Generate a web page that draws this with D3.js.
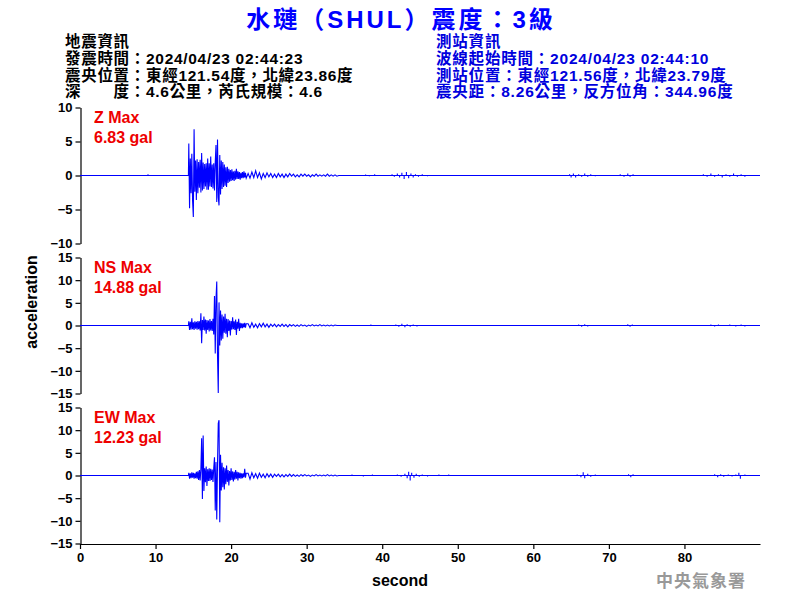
<!DOCTYPE html>
<html><head><meta charset="utf-8">
<script src="https://cdn.jsdelivr.net/npm/d3@7"></script>
<style>
html,body{margin:0;padding:0;background:#fff;}
svg{display:block;}
text{font-family:"Liberation Sans","Noto Sans CJK TC",Arial,sans-serif;font-weight:bold;}
</style></head>
<body>
<svg id="c" width="800" height="600"></svg>
<script>
// ---------------- data ----------------
const title = "水璉（SHUL）震度：3級";
const leftInfo = ["地震資訊","發震時間：2024/04/23 02:44:23","震央位置：東經121.54度，北緯23.86度","深\u3000\u3000度：4.6公里，芮氏規模：4.6"];
const rightInfo = ["測站資訊","波線起始時間：2024/04/23 02:44:10","測站位置：東經121.56度，北緯23.79度","震央距：8.26公里，反方位角：344.96度"];
const channels = ["Z","NS","EW"];
const maxLabels = ["6.83 gal","14.88 gal","12.23 gal"];
const yDomains = [[-10,10],[-15,15],[-15,15]];
const yTicks = [[-10,-5,0,5,10],[-15,-10,-5,0,5,10,15],[-15,-10,-5,0,5,10,15]];
const xTicks = [0,10,20,30,40,50,60,70,80];
const xDomain = [0,90];

// strong motion: samples every 0.1 s starting at 14.4 s
const strongStart = 14.4, strongDt = 0.1;
const zStrong = [4.7,-4.8,2.5,-2.6,3.2,-3.7,-6.1,6.8,-2.4,2.2,-3.6,2.4,-2.6,2.0,-1.8,2.3,-2.5,3.3,-2.2,1.9,-2.0,1.7,-1.6,1.8,-2.1,2.5,-2.1,1.8,-1.6,2.8,-1.7,1.6,-1.9,1.8,-2.2,1.9,4.5,-3.9,5.3,-3.2,-4.4,3.0,-2.8,2.2,-2.0,2.0,-1.7,1.6,-1.5,1.2,-1.7,1.3,-1.1,1.0,-0.9,0.8,-0.8,0.9,-0.7,0.6,-0.8,0.7,-0.6,1.0,-0.5,0.6,-0.5,0.5,-0.6,0.4,-0.4,0.5,-0.4,0.6,-0.3,0.4,-0.4];
const nsStrong = [0.9,-1.0,0.8,-0.9,1.6,-0.8,0.7,-1.0,0.9,-0.7,0.8,-0.9,1.0,-0.8,0.9,-1.1,2.7,-3.9,1.2,-1.0,2.0,-1.1,1.3,-1.8,1.2,-1.0,1.1,-1.3,1.4,-1.1,1.0,-1.2,1.5,-2.0,6.5,-6.2,5.8,9.7,-6.6,-14.9,5.1,-4.4,3.3,-3.3,2.4,-2.9,2.0,-1.6,2.6,-1.8,1.5,-2.6,1.4,-1.2,1.1,-2.2,1.0,-0.9,1.8,-0.8,0.9,-1.0,1.3,-2.1,0.8,-0.7,1.5,-1.2,0.6,-0.6,0.5,-0.6,0.5,-0.4,0.6,-0.5,0.4];
const ewStrong = [0.6,-0.7,0.5,-0.6,0.7,-0.5,0.6,-0.7,0.5,-0.6,0.8,-0.7,0.9,-1.0,1.2,-1.1,1.5,8.2,-5.2,8.8,-3.4,1.6,-1.5,2.0,-2.3,1.4,-1.2,1.6,-1.2,1.5,-1.0,1.3,-1.4,1.6,4.0,-7.7,3.0,-9.7,2.5,11.5,12.2,-10.3,4.6,-3.3,2.8,-2.6,1.8,-3.1,1.6,-1.9,2.2,-1.4,1.2,-2.2,1.0,-1.1,1.6,-1.0,0.9,-1.3,0.8,-0.9,1.2,-0.7,0.8,-1.1,0.7,-0.6,0.6,-0.7,0.5,-0.6,0.5,-0.4,1.5,-0.5,0.5];

// coda: samples every 0.25 s starting at 22.25 s
const codaStart = 22.25, codaDt = 0.25;
const zCoda = [0.3,-0.4,0.5,-0.3,0.7,-0.3,0.4,-0.5,0.3,-0.3,0.4,-0.2,0.3,-0.3,0.2,-0.3,0.3,-0.2,0.2,-0.3,0.2,-0.2,0.3,-0.1,0.2,-0.2,0.1,-0.2,0.2,-0.1,0.2,-0.1,0.1,-0.2,0.1,-0.1,0.2,-0.1,0.1,-0.1,0.1,-0.1,0.2,-0.1,0.1,-0.1,0.1,-0.1];
const nsCoda = [0.4,-0.5,0.6,-0.4,0.3,-0.5,0.4,-0.3,0.5,-0.3,0.3,-0.4,0.3,-0.2,0.3,-0.3,0.2,-0.2,0.3,-0.2,0.2,-0.3,0.2,-0.1,0.2,-0.2,0.1,-0.2,0.2,-0.1,0.1,-0.2,0.1,-0.1,0.2,-0.1,0.1,-0.1,0.2,-0.1,0.1,-0.1,0.1,-0.1,0.1,-0.1,0.1,0];
const ewCoda = [0.5,-0.8,0.6,-0.5,0.4,-0.6,0.5,-0.4,0.3,-0.5,0.4,-0.3,0.3,-0.4,0.3,-0.2,0.3,-0.3,0.2,-0.3,0.2,-0.2,0.3,-0.2,0.2,-0.2,0.1,-0.2,0.2,-0.1,0.2,-0.1,0.1,-0.2,0.1,-0.1,0.2,-0.1,0.1,-0.1,0.1,-0.1,0.2,-0.1,0.1,-0.1,0.1,-0.1];

// isolated small spikes [time, value]
const zSpikes = [[9.0,0.2],[37.8,0.15],[38.3,-0.1],[39.0,0.2],[41.3,0.2],[41.6,-0.2],[42.0,0.3],[42.3,-0.3],[42.6,0.4],[42.9,-0.5],[43.2,0.5],[43.5,-0.4],[43.8,0.3],[44.1,-0.3],[44.4,0.2],[44.8,-0.2],[45.3,0.2],[46.0,-0.1],[64.8,0.2],[65.0,-0.3],[65.3,0.3],[65.6,-0.3],[66.0,0.2],[66.4,-0.2],[66.8,0.3],[67.2,-0.2],[67.6,0.2],[68.2,-0.1],[71.5,0.2],[72.0,-0.2],[72.5,0.3],[72.8,-0.2],[73.2,0.2],[82.5,0.2],[83.0,-0.2],[83.5,0.3],[84.0,-0.2],[84.5,0.2],[85.0,-0.3],[85.5,0.2],[86.0,-0.2],[86.5,0.3],[87.0,-0.2],[87.5,0.2],[88.0,-0.2]];
const nsSpikes = [[38.5,0.2],[40.0,-0.1],[41.8,0.2],[42.2,-0.3],[42.6,0.4],[43.0,-0.4],[43.3,0.3],[43.7,-0.3],[44.1,0.2],[44.6,-0.2],[66.0,0.2],[66.4,-0.3],[66.8,0.3],[67.2,-0.2],[72.5,0.3],[72.8,-0.3],[73.1,0.2],[83.5,0.2],[84.0,-0.2],[84.5,0.2],[85.0,-0.1],[86.0,0.2],[86.8,-0.2],[87.5,0.2],[88.0,-0.2]];
const ewSpikes = [[36.0,0.2],[37.5,-0.2],[38.7,0.2],[42.0,0.2],[42.5,-0.3],[43.0,0.4],[43.3,-0.6],[43.5,0.8],[43.7,-1.1],[43.9,0.6],[44.2,-0.5],[44.5,0.4],[44.9,-0.3],[45.3,0.2],[46.0,-0.2],[47.5,0.2],[48.8,0.2],[65.8,0.2],[66.3,-0.4],[66.6,0.7],[66.8,-0.6],[67.2,0.4],[67.6,-0.3],[68.2,0.2],[72.6,0.3],[72.9,-0.4],[73.2,0.3],[84.0,0.3],[84.4,-0.4],[84.8,0.3],[85.2,-0.3],[85.8,0.2],[86.3,-0.2],[86.8,0.2],[87.2,0.6],[87.4,-0.7],[88.0,0.2]];

const strongs = [zStrong, nsStrong, ewStrong];
const codas = [zCoda, nsCoda, ewCoda];
const spikes = [zSpikes, nsSpikes, ewSpikes];

// ---------------- drawing ----------------
const svg = d3.select("#c");
svg.append("rect").attr("width",800).attr("height",600).attr("fill","#fff");

const blue = "#0000ff";
svg.append("text").attr("x",401).attr("y",28).attr("text-anchor","middle")
  .attr("font-size",24).attr("fill",blue).attr("letter-spacing",3).text(title);

const infoY = [47,64,80.5,97];
leftInfo.forEach((t,i)=>svg.append("text").attr("x",65).attr("y",infoY[i]).attr("font-size",15.5)
  .attr("letter-spacing",0.7).attr("fill","#000").text(t));
rightInfo.forEach((t,i)=>svg.append("text").attr("x",436).attr("y",infoY[i]).attr("font-size",15.5)
  .attr("letter-spacing",0.8).attr("fill","#0000dd").text(t));

const x = d3.scaleLinear().domain(xDomain).range([80,760]);
const panelTop = 107.5, panelH = 136, panelStep = 150;

function tracePoints(i){
  const pts = [[xDomain[0],0]];
  const sp = spikes[i].filter(d=>d[0]<strongStart);
  sp.forEach(d=>{pts.push([d[0],0],[d[0],d[1]],[d[0],0]);});
  pts.push([strongStart-0.05,0]);
  strongs[i].forEach((v,k)=>pts.push([strongStart+k*strongDt, v]));
  codas[i].forEach((v,k)=>pts.push([codaStart+k*codaDt, v]));
  pts.push([codaStart+codas[i].length*codaDt,0]);
  spikes[i].filter(d=>d[0]>strongStart).forEach(d=>{pts.push([d[0],0],[d[0],d[1]],[d[0],0]);});
  pts.push([xDomain[1],0]);
  return pts;
}

channels.forEach((ch,i)=>{
  const top = panelTop + i*panelStep;
  const y = d3.scaleLinear().domain(yDomains[i]).range([top+panelH, top]);
  const g = svg.append("g");
  const ax = g.append("g").attr("transform","translate(80.5,0)")
    .call(d3.axisLeft(y).tickValues(yTicks[i]).tickSize(5).tickSizeOuter(0).tickPadding(3));
  ax.selectAll("path,line").attr("stroke","#000").attr("stroke-width",1.2);
  ax.selectAll("text").attr("font-family",'"Liberation Sans",Arial,sans-serif').attr("font-weight","bold")
    .attr("font-size",13).attr("fill","#000");

  const line = d3.line().x(d=>x(d[0])).y(d=>y(d[1]));
  g.append("path").datum(tracePoints(i)).attr("d",line).attr("fill","none")
    .attr("stroke",blue).attr("stroke-width",1.1);

  g.append("text").attr("x",94).attr("y",top+15.5).attr("font-size",16).attr("fill","#ee0000").text(ch+" Max");
  g.append("text").attr("x",94).attr("y",top+35.5).attr("font-size",16).attr("fill","#ee0000").text(maxLabels[i]);

  if(i===channels.length-1){
    const xa = g.append("g").attr("transform",`translate(0,${top+panelH+0.5})`)
      .call(d3.axisBottom(x).tickValues(xTicks).tickSize(5).tickSizeOuter(0).tickPadding(4).tickFormat(d3.format("d")));
    xa.selectAll("path,line").attr("stroke","#000").attr("stroke-width",1.2);
    xa.selectAll("text").attr("font-family",'"Liberation Sans",Arial,sans-serif').attr("font-weight","bold")
      .attr("font-size",13).attr("fill","#000");
  }
});

svg.append("text").attr("transform","translate(37,302) rotate(-90)").attr("text-anchor","middle")
  .attr("font-size",16).attr("fill","#000").text("acceleration");
svg.append("text").attr("x",400).attr("y",586).attr("text-anchor","middle")
  .attr("font-size",16).attr("fill","#000").text("second");
svg.append("text").attr("x",746).attr("y",587).attr("text-anchor","end")
  .attr("font-size",17).attr("fill","#999").attr("letter-spacing",1).text("中央氣象署");
</script>
</body></html>
